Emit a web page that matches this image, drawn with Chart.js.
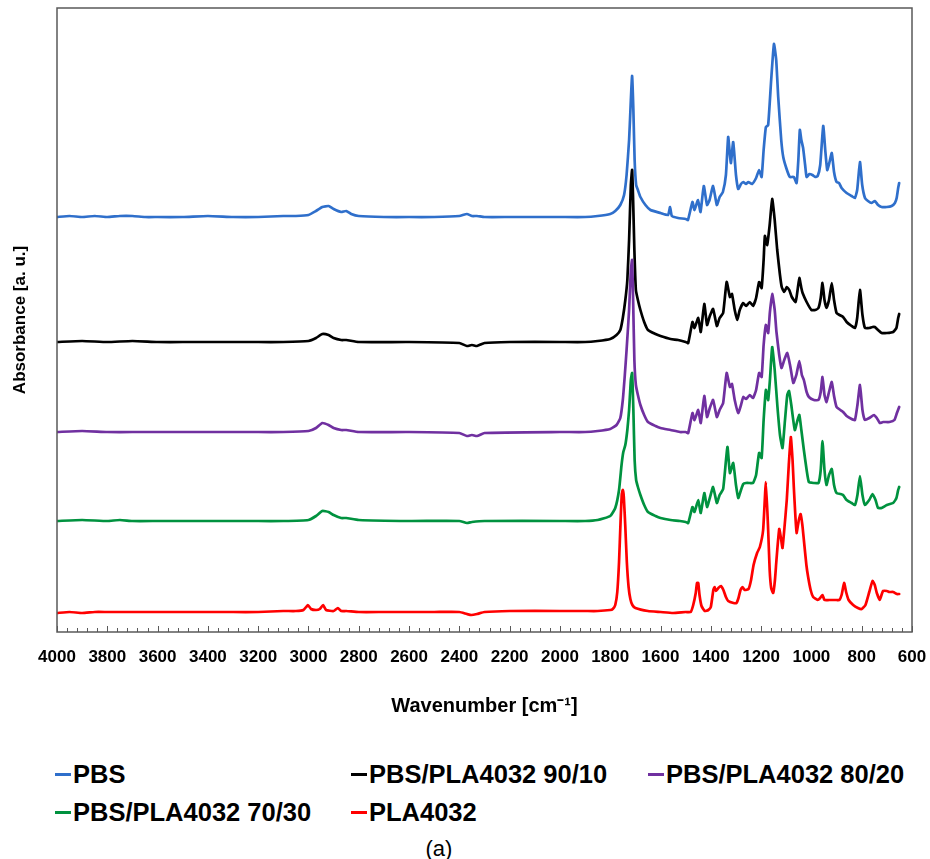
<!DOCTYPE html>
<html><head><meta charset="utf-8">
<script src="https://cdn.jsdelivr.net/npm/chart.js@4.4.1/dist/chart.umd.min.js"></script>
<style>
html,body{margin:0;padding:0;background:#fff;}
#wrap{position:relative;width:930px;height:859px;overflow:hidden;}
#cv{position:absolute;left:0;top:0;}
.leg{position:absolute;font-family:'Liberation Sans',Arial,sans-serif;font-weight:bold;font-size:25.5px;color:#000;white-space:nowrap;display:flex;align-items:center;height:30px;line-height:30px;}
.leg i{display:inline-block;width:16px;height:3px;margin-right:2px;}
#cap{position:absolute;left:389px;width:100px;text-align:center;top:836px;font-family:'Liberation Sans',Arial,sans-serif;font-size:22px;color:#000;line-height:26px;}
</style>
</head><body>
<div id="wrap">
<canvas id="cv" width="930" height="740"></canvas>
<div id="cap">(a)</div>
</div>
<script>
// ---- data (wavenumber in cm-1, absorbance in arbitrary units, offset as plotted) ----
const seriesNames = ['PBS','PBS/PLA4032 90/10','PBS/PLA4032 80/20','PBS/PLA4032 70/30','PLA4032'];
const seriesColors = ['#2F6FCB','#000000','#7030A0','#00923F','#FF0000'];
const xMajorTicks = [4000,3800,3600,3400,3200,3000,2800,2600,2400,2200,2000,1800,1600,1400,1200,1000,800,600];

const pbsWn = [4000,3950,3900,3850,3800,3750,3700,3650,3600,3500,3400,3300,3200,3100,3050,3000,2970,2945,2920,2900,2870,2850,2830,2800,2700,2600,2500,2400,2370,2350,2330,2300,2200,2100,2000,1900,1850,1800,1780,1760,1745,1735,1725,1718,1713,1708,1703,1697,1690,1680,1660,1640,1600,1570,1562,1555,1530,1500,1491,1473,1465,1451,1441,1428,1415,1405,1391,1376,1365,1352,1340,1331,1324,1320,1311,1300,1291,1280,1271,1260,1251,1236,1220,1208,1198,1190,1181,1172,1160,1149,1140,1132,1120,1112,1100,1086,1070,1059,1052,1046,1040,1033,1025,1019,1008,996,985,975,965,953,945,937,928,919,910,900,890,880,860,840,827,818,807,798,787,775,761,748,735,721,700,681,668,661,655,651];
const pbsAbs = [415,416,415,416,415,416,416,415,415,415,416,415,415,416,416,417,421,425,426,423,420,421,418,416,415,415,415,416,418,416,416,415,415,415,415,415,416,418,421,427,437,457,492,532,556,522,472,447,442,435,427,422,419,417,425,416,414,413,412,430,422,432,420,446,427,432,446,427,435,440,457,495,477,469,490,457,443,448,450,448,450,448,454,462,455,482,505,507,552,588,572,535,492,475,464,455,455,449,472,502,492,484,467,455,458,457,455,456,467,506,482,462,470,479,460,450,449,444,439,436,434,442,470,447,434,431,429,431,427,425,425,426,429,434,444,449];

const b9010Wn = [4000,3900,3800,3700,3600,3500,3400,3300,3200,3100,3000,2970,2945,2920,2900,2870,2850,2800,2600,2400,2370,2350,2330,2300,2200,2000,1900,1850,1800,1775,1760,1750,1740,1732,1725,1718,1713,1709,1704,1698,1690,1680,1665,1650,1620,1600,1560,1530,1500,1490,1473,1465,1450,1440,1426,1415,1404,1391,1376,1365,1351,1337,1324,1316,1305,1295,1285,1271,1260,1245,1232,1220,1208,1198,1190,1185,1176,1166,1156,1146,1136,1125,1118,1108,1098,1088,1078,1063,1055,1048,1040,1035,1019,1000,985,972,963,956,948,940,930,919,910,900,888,874,860,840,827,818,807,797,787,770,757,748,735,721,700,675,662,655,651];
const b9010Abs = [290,291,290,291,290,290,290,290,290,290,291,294,298,297,294,292,292,290,290,289,286,287,286,289,290,290,290,291,293,297,302,314,332,352,392,447,462,432,382,342,332,322,310,302,298,296,293,292,290,289,310,304,314,300,328,307,316,323,306,314,319,350,335,338,322,312,322,329,326,330,326,334,350,344,372,396,387,407,433,412,382,357,345,340,345,342,335,330,342,354,344,339,330,322,322,324,334,349,332,324,332,349,332,319,317,315,310,306,304,314,342,317,304,304,305,305,302,299,299,300,304,314,318];

const b8020Wn = [4000,3900,3800,3700,3600,3400,3200,3100,3000,2970,2945,2920,2900,2870,2850,2800,2600,2400,2370,2350,2330,2300,2000,1900,1850,1800,1775,1760,1750,1742,1735,1725,1718,1713,1709,1704,1698,1690,1680,1665,1650,1620,1600,1560,1523,1500,1490,1473,1465,1450,1440,1426,1415,1404,1391,1376,1365,1351,1337,1324,1316,1305,1291,1280,1271,1260,1245,1232,1220,1208,1198,1190,1181,1172,1165,1156,1146,1139,1128,1119,1108,1096,1085,1072,1060,1048,1038,1030,1019,1010,990,972,963,956,948,940,930,919,910,900,885,874,860,840,827,817,807,797,787,770,751,740,728,715,690,670,660,651];
const b8020Abs = [200,201,200,200,200,200,200,200,201,204,209,207,204,202,202,200,200,199,196,197,196,199,200,200,201,203,207,214,232,257,282,322,362,372,332,272,247,237,227,217,210,206,204,202,200,200,199,219,212,222,209,236,215,224,232,215,222,229,259,245,248,232,219,227,235,233,237,234,242,259,255,287,307,299,320,338,322,300,277,264,272,279,267,249,257,271,257,252,240,235,232,232,240,255,237,230,240,250,236,225,222,220,216,213,212,227,247,222,212,214,217,214,209,210,210,212,219,225];

const b7030Wn = [4000,3900,3800,3750,3700,3600,3400,3200,3100,3000,2970,2945,2920,2900,2870,2850,2800,2600,2400,2370,2350,2300,2000,1900,1850,1800,1780,1765,1755,1748,1740,1732,1725,1718,1713,1708,1703,1697,1690,1680,1665,1650,1620,1600,1560,1523,1500,1490,1473,1465,1450,1440,1426,1415,1404,1391,1376,1365,1351,1334,1324,1311,1300,1291,1280,1271,1260,1245,1232,1220,1208,1198,1190,1181,1172,1165,1156,1146,1135,1125,1115,1105,1096,1089,1080,1066,1055,1048,1040,1030,1019,1010,990,972,963,956,948,940,930,919,910,900,885,874,860,840,827,817,807,797,787,770,757,745,735,721,700,675,662,655,651];
const b7030Abs = [111,112,111,112,111,111,111,111,111,112,116,121,120,117,114,114,112,111,111,109,110,111,111,111,112,116,124,142,167,180,187,202,222,252,259,222,172,152,145,137,127,120,116,114,112,111,110,109,125,120,132,119,139,125,134,145,129,137,143,185,159,169,147,134,142,148,149,149,149,157,179,174,212,242,232,252,285,262,225,197,184,212,237,241,227,202,212,217,202,182,162,150,149,149,162,191,162,147,157,163,147,139,138,137,132,129,127,137,156,137,127,132,138,132,124,124,127,129,134,142,145];

const plaWn = [4000,3950,3900,3850,3800,3700,3600,3500,3400,3300,3200,3100,3050,3020,3002,2990,2970,2955,2942,2930,2900,2883,2870,2850,2800,2700,2600,2500,2400,2370,2352,2330,2300,2200,2000,1900,1850,1800,1790,1780,1772,1765,1759,1754,1750,1746,1740,1734,1727,1720,1712,1700,1650,1600,1550,1500,1480,1470,1460,1455,1450,1445,1437,1424,1410,1400,1390,1385,1380,1370,1360,1350,1340,1331,1310,1298,1290,1282,1274,1265,1250,1240,1230,1216,1205,1192,1181,1172,1166,1160,1152,1145,1139,1128,1120,1115,1108,1098,1090,1082,1075,1070,1064,1059,1050,1043,1036,1030,1020,1013,1003,993,975,965,956,948,930,900,889,880,870,862,852,834,815,800,785,770,757,748,740,728,720,715,700,690,675,660,651];
const plaAbs = [19,20,19,20,20,20,20,20,20,20,20,21,21,22,27,23,22,23,27,22,21,24,21,21,20,20,20,20,20,18,17,18,20,21,21,21,21,22,23,27,40,70,110,138,142,135,105,70,45,33,27,24,21,20,19,20,20,27,39,49,49,37,26,21,22,25,42,45,41,44,46,42,35,31,29,29,34,42,45,42,43,52,67,79,85,102,150,102,62,44,39,52,72,103,92,84,102,132,167,195,172,145,117,99,112,118,107,92,67,55,42,35,32,34,37,32,32,32,32,37,49,40,32,27,24,23,27,40,51,47,39,32,38,41,41,40,40,38,38];

// ---- build chart ----
const FONT = "'Liberation Sans', Arial, sans-serif";
const wnSets = [pbsWn, b9010Wn, b8020Wn, b7030Wn, plaWn];
const absSets = [pbsAbs, b9010Abs, b8020Abs, b7030Abs, plaAbs];
const toPts = (w, a) => w.map((x, i) => ({x: x, y: a[i]}));

const datasets = seriesNames.map((name, i) => ({
  label: name,
  data: toPts(wnSets[i], absSets[i]),
  borderColor: seriesColors[i],
  backgroundColor: seriesColors[i],
  borderWidth: 2.7,
  borderJoinStyle: 'round',
  borderCapStyle: 'round',
  pointRadius: 0,
  tension: 0.15,
  fill: false,
  order: seriesNames.length - 1 - i
}));

const framePlugin = {
  id: 'frame',
  afterDatasetsDraw(chart) {
    const {ctx, chartArea: a, scales: {x}} = chart;
    ctx.save();
    ctx.strokeStyle = '#595959';
    ctx.lineWidth = 1;
    x.ticks.forEach(t => {
      const px = Math.round(x.getPixelForValue(t.value)) + 0.5;
      const len = xMajorTicks.includes(Math.round(t.value)) ? 6 : 4;
      ctx.beginPath();
      ctx.moveTo(px, a.bottom);
      ctx.lineTo(px, a.bottom - len);
      ctx.stroke();
    });
    ctx.lineWidth = 1.5;
    ctx.strokeRect(a.left, a.top, a.right - a.left, a.bottom - a.top);
    ctx.restore();
  }
};

const chart = new Chart(document.getElementById('cv'), {
  type: 'line',
  data: {datasets},
  options: {
    responsive: false,
    animation: false,
    devicePixelRatio: 1,
    layout: {padding: {top: 8, right: 18, bottom: 0, left: 0}},
    plugins: {legend: {display: false}, tooltip: {enabled: false}},
    scales: {
      x: {
        type: 'linear', reverse: true, min: 600, max: 4000,
        grid: {display: false, drawTicks: true, tickLength: 15},
        border: {display: false},
        ticks: {
          stepSize: 40, autoSkip: false, maxRotation: 0, minRotation: 0, padding: 0,
          color: '#000', font: {family: FONT, size: 17, weight: 'bold'},
          callback: (v) => xMajorTicks.includes(Math.round(v)) ? String(Math.round(v)) : ''
        },
        title: {display: true, text: 'Wavenumber [cm\u207B\u00B9]', color: '#000',
          font: {family: FONT, size: 20, weight: 'bold'}, padding: {top: 0, bottom: 22}},
        afterFit(s) { s.height = 108; }
      },
      y: {
        type: 'linear', min: 0, max: 624,
        grid: {display: false}, border: {display: false},
        ticks: {display: false},
        title: {display: true, text: 'Absorbance [a. u.]', color: '#000',
          font: {family: FONT, size: 17, weight: 'bold'}, padding: {top: 10, bottom: 0}},
        afterFit(s) { s.width = 57; }
      }
    }
  },
  plugins: [framePlugin]
});

// ---- HTML legend built from datasets ----
const colLeft = [55, 351, 648];
const rowMid = [774, 812];
const wrap = document.getElementById('wrap');
chart.data.datasets.forEach((ds, i) => {
  const d = document.createElement('div');
  d.className = 'leg';
  d.style.left = colLeft[i % 3] + 'px';
  d.style.top = (rowMid[Math.floor(i / 3)] - 15) + 'px';
  const m = document.createElement('i');
  m.style.background = ds.borderColor;
  d.appendChild(m);
  d.appendChild(document.createTextNode(ds.label));
  wrap.appendChild(d);
});
</script>
</body></html>
